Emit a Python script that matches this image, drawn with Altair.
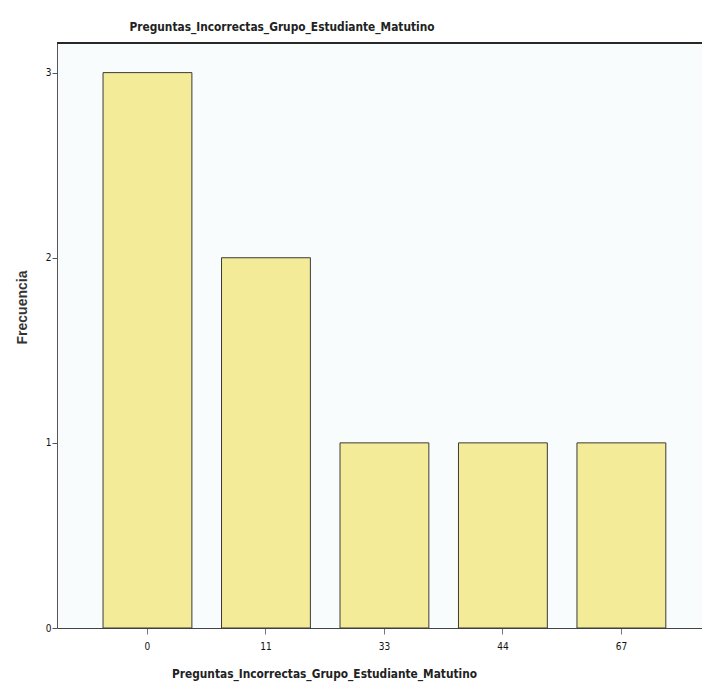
import altair as alt
import pandas as pd

categories = ["0", "11", "33", "44", "67"]
frequencies = [3, 2, 1, 1, 1]
title_text = "Preguntas_Incorrectas_Grupo_Estudiante_Matutino"

df = pd.DataFrame({"cat": categories, "freq": frequencies})

COND = "DejaVu Sans Condensed"
W, H = 645, 585

bars = alt.Chart(df).mark_bar(
    color="#f4eb98", stroke="#3a3a3a", strokeWidth=1
).encode(
    x=alt.X("cat:N", sort=categories,
            scale=alt.Scale(paddingInner=0.25, paddingOuter=0.347, align=0.56),
            axis=alt.Axis(title=title_text, labelAngle=0, labelFont=COND,
                          labelFontSize=10, labelColor="#111", tickSize=6,
                          tickColor="#777", domainColor="#444", labelPadding=7,
                          titleFont=COND, titleFontSize=11.8,
                          titleFontWeight="bold",
                          titleColor="#222", titlePadding=17, titleX=324 - 57)),
    y=alt.Y("freq:Q", scale=alt.Scale(domain=[0, 3.16], nice=False, zero=True),
            axis=alt.Axis(title="Frecuencia", values=[0, 1, 2, 3], format="d",
                          labelFont=COND, labelFontSize=10, labelColor="#111",
                          tickSize=5, tickColor="#555", domainColor="#555",
                          labelPadding=1, grid=False,
                          titleFont="Liberation Sans", titleFontSize=14,
                          titleFontWeight="bold", titleColor="#333",
                          titlePadding=16, titleY=307 - 43))
)

top_line = alt.Chart(df).mark_rule(color="#222", strokeWidth=1.2).encode(
    x=alt.value(0), x2=alt.value(W), y=alt.value(0)
)

chart = alt.layer(bars, top_line).properties(
    width=W, height=H,
    title=alt.TitleParams(title_text, font=COND, fontSize=11.8, fontWeight="bold",
                          color="#222", anchor="middle", dx=282 - (57 + W / 2),
                          offset=9),
    autosize=alt.AutoSizeParams(type="none"),
    padding={"left": 49, "top": 35, "right": 0, "bottom": 60},
    background="white",
).configure_view(stroke=None, fill="#f9fcfd")

chart.save("out.html", embed_options={"renderer": "svg", "actions": False})
